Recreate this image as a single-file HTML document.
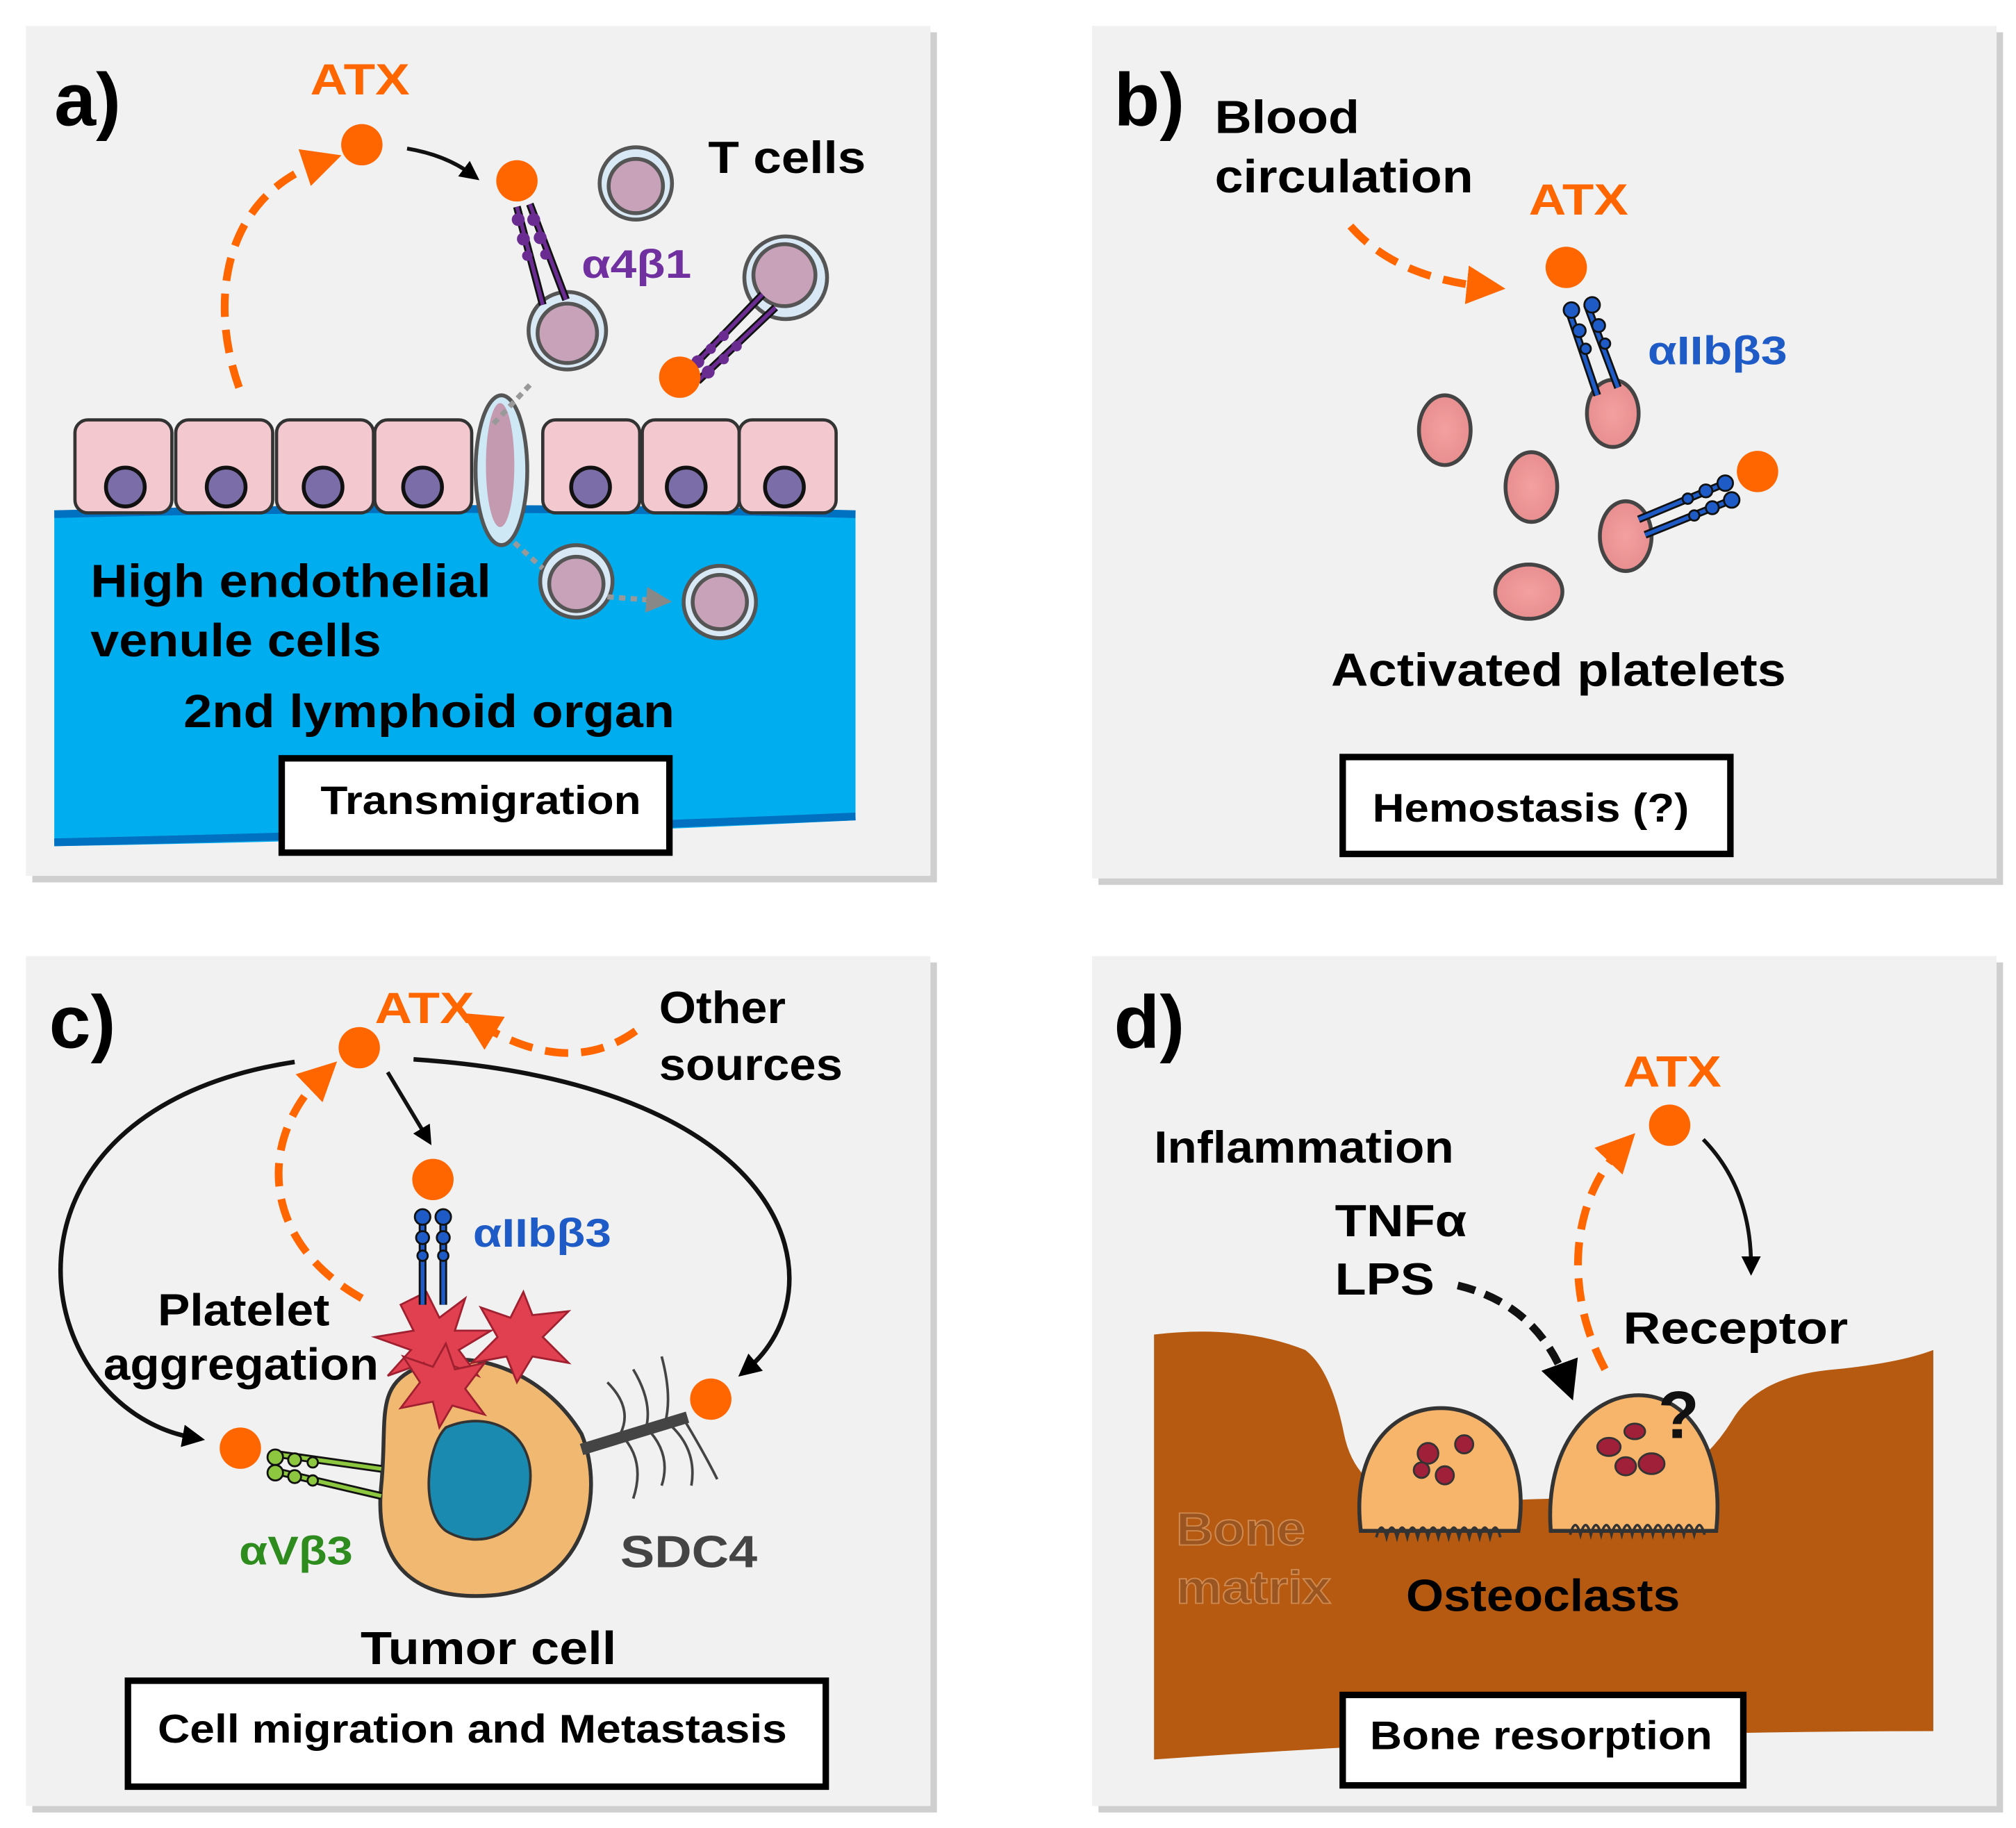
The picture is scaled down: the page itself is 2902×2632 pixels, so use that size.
<!DOCTYPE html>
<html><head><meta charset="utf-8"><style>
html,body{margin:0;padding:0;background:#fff;}
svg{display:block;}
text{font-family:"Liberation Sans",sans-serif;font-weight:bold;}
</style></head><body>
<svg width="2902" height="2632" viewBox="0 0 1560 1415" preserveAspectRatio="none" xmlns="http://www.w3.org/2000/svg">
<defs>
<marker id="ab" viewBox="0 0 10 10" refX="5" refY="5" markerWidth="5" markerHeight="5" orient="auto"><path d="M0,0 L10,5 L0,10 z" fill="#000"/></marker>
<marker id="ao" viewBox="0 0 10 10" refX="5" refY="5" markerWidth="5" markerHeight="5" orient="auto"><path d="M0,0 L10,5 L0,10 z" fill="#f60"/></marker>
<marker id="ag" viewBox="0 0 10 10" refX="5" refY="5" markerWidth="5" markerHeight="5" orient="auto"><path d="M0,0 L10,5 L0,10 z" fill="#888"/></marker>
<radialGradient id="pl"><stop offset="0" stop-color="#f4a0a0"/><stop offset="1" stop-color="#e88f90"/></radialGradient>
</defs>
<g fill="#cfcfcf"><rect x="25" y="25" width="700" height="658"/><rect x="850" y="25" width="700" height="660"/><rect x="25" y="745" width="700" height="658"/><rect x="850" y="745" width="700" height="658"/></g>
<g fill="#f1f1f1"><rect x="20" y="20" width="700" height="658"/><rect x="845" y="20" width="700" height="660"/><rect x="20" y="740" width="700" height="658"/><rect x="845" y="740" width="700" height="658"/></g>

<!-- PANEL A -->
<path d="M42,398 Q350,390 662,398 L662,635 Q350,650 42,655 Z" fill="#00aeef"/>
<path d="M42,398 Q350,390 662,398" stroke="#0070c0" stroke-width="6" fill="none"/>
<path d="M42,652 Q350,645 662,632" stroke="#0070c0" stroke-width="6" fill="none"/>
<g stroke="#333" stroke-width="2.5" fill="#f3c8cf">
<rect x="58" y="325" width="75" height="72" rx="10"/><rect x="136" y="325" width="75" height="72" rx="10"/><rect x="214" y="325" width="75" height="72" rx="10"/><rect x="290" y="325" width="75" height="72" rx="10"/>
<rect x="420" y="325" width="75" height="72" rx="10"/><rect x="497" y="325" width="75" height="72" rx="10"/><rect x="572" y="325" width="75" height="72" rx="10"/>
</g>
<g fill="#7b6ea8" stroke="#111" stroke-width="3">
<circle cx="97" cy="377" r="15"/><circle cx="175" cy="377" r="15"/><circle cx="250" cy="377" r="15"/><circle cx="327" cy="377" r="15"/><circle cx="457" cy="377" r="15"/><circle cx="531" cy="377" r="15"/><circle cx="607" cy="377" r="15"/>
</g>
<ellipse cx="388" cy="364" rx="20" ry="58" fill="#cfe8f5" stroke="#555" stroke-width="3"/>
<ellipse cx="387" cy="360" rx="11" ry="48" fill="#c49ab0"/>
<g fill="#c8a2b8" stroke="#555" stroke-width="3">
<circle cx="492" cy="142" r="28" fill="#d8e8f4"/><circle cx="492" cy="144" r="21"/>
<circle cx="439" cy="256" r="30" fill="#d8e8f4"/><circle cx="439" cy="258" r="23"/>
<circle cx="608" cy="215" r="32" fill="#d8e8f4"/><circle cx="607" cy="213" r="24"/>
<circle cx="446" cy="450" r="28" fill="#d8e8f4"/><circle cx="446" cy="452" r="21"/>
<circle cx="557" cy="466" r="28" fill="#d8e8f4"/><circle cx="557" cy="466" r="21"/>
</g>
<path d="M410,298 L380,330" stroke="#999" stroke-width="4" stroke-dasharray="5,4"/>
<path d="M398,420 L420,440" stroke="#999" stroke-width="4" stroke-dasharray="5,4"/>
<path d="M470,462 L510,465" stroke="#999" stroke-width="4" stroke-dasharray="5,4" marker-end="url(#ag)"/>
<g stroke="#111" stroke-width="6"><line x1="400" y1="160" x2="420" y2="236"/><line x1="410" y1="158" x2="438" y2="232"/></g>
<g stroke="#6a2c91" stroke-width="3"><line x1="400" y1="160" x2="420" y2="236"/><line x1="410" y1="158" x2="438" y2="232"/></g>
<g fill="#6a2c91"><circle cx="401" cy="170" r="5"/><circle cx="405" cy="185" r="5"/><circle cx="408" cy="198" r="4"/><circle cx="413" cy="170" r="5"/><circle cx="418" cy="184" r="5"/><circle cx="422" cy="197" r="4"/></g>
<g stroke="#111" stroke-width="6"><line x1="530" y1="290" x2="590" y2="228"/><line x1="540" y1="295" x2="600" y2="238"/></g>
<g stroke="#6a2c91" stroke-width="3"><line x1="530" y1="290" x2="590" y2="228"/><line x1="540" y1="295" x2="600" y2="238"/></g>
<g fill="#6a2c91"><circle cx="540" cy="280" r="5"/><circle cx="550" cy="270" r="4"/><circle cx="560" cy="260" r="4"/><circle cx="548" cy="288" r="5"/><circle cx="560" cy="278" r="4"/><circle cx="570" cy="268" r="4"/></g>
<g fill="#f60"><circle cx="280" cy="112" r="16"/><circle cx="400" cy="140" r="16"/><circle cx="526" cy="292" r="16"/></g>
<path d="M185,300 C160,230 175,150 250,125" stroke="#f60" stroke-width="6" fill="none" stroke-dasharray="18,10" marker-end="url(#ao)"/>
<path d="M315,115 Q345,120 365,135" stroke="#111" stroke-width="3" fill="none" marker-end="url(#ab)"/>
<text x="42" y="97" font-size="58">a)</text>
<text x="240" y="73" font-size="34" fill="#f60" textLength="77" lengthAdjust="spacingAndGlyphs">ATX</text>
<text x="548" y="134" font-size="35" textLength="122" lengthAdjust="spacingAndGlyphs">T cells</text>
<text x="450" y="215" font-size="31" fill="#7030a0" textLength="85" lengthAdjust="spacingAndGlyphs">α4β1</text>
<text x="70" y="462" font-size="36" textLength="310" lengthAdjust="spacingAndGlyphs">High endothelial</text>
<text x="70" y="508" font-size="36" textLength="225" lengthAdjust="spacingAndGlyphs">venule cells</text>
<text x="142" y="563" font-size="36" textLength="380" lengthAdjust="spacingAndGlyphs">2nd lymphoid organ</text>
<rect x="218" y="587" width="300" height="73" fill="#fff" stroke="#000" stroke-width="5"/>
<text x="248" y="630" font-size="31" textLength="248" lengthAdjust="spacingAndGlyphs">Transmigration</text>

<!-- PANEL B -->
<text x="862" y="97" font-size="58">b)</text>
<text x="940" y="103" font-size="36" textLength="112" lengthAdjust="spacingAndGlyphs">Blood</text>
<text x="940" y="149" font-size="36" textLength="200" lengthAdjust="spacingAndGlyphs">circulation</text>
<text x="1183" y="166" font-size="34" fill="#f60" textLength="77" lengthAdjust="spacingAndGlyphs">ATX</text>
<path d="M1045,175 Q1080,215 1150,222" stroke="#f60" stroke-width="6" fill="none" stroke-dasharray="18,10" marker-end="url(#ao)"/>
<circle cx="1212" cy="207" r="16" fill="#f60"/>
<g fill="url(#pl)" stroke="#444" stroke-width="3">
<ellipse cx="1118" cy="333" rx="20" ry="27"/><ellipse cx="1185" cy="377" rx="20" ry="27"/><ellipse cx="1183" cy="458" rx="26" ry="21"/>
<ellipse cx="1248" cy="320" rx="20" ry="26"/><ellipse cx="1258" cy="415" rx="20" ry="27"/>
</g>
<g stroke="#111" stroke-width="6"><line x1="1213" y1="238" x2="1236" y2="306"/><line x1="1228" y1="236" x2="1252" y2="300"/><line x1="1268" y1="402" x2="1340" y2="372"/><line x1="1273" y1="414" x2="1345" y2="385"/></g>
<g stroke="#1e5bc6" stroke-width="3"><line x1="1213" y1="238" x2="1236" y2="306"/><line x1="1228" y1="236" x2="1252" y2="300"/><line x1="1268" y1="402" x2="1340" y2="372"/><line x1="1273" y1="414" x2="1345" y2="385"/></g>
<g fill="#1e5bc6" stroke="#111" stroke-width="1.5"><circle cx="1216" cy="240" r="6"/><circle cx="1222" cy="256" r="5"/><circle cx="1227" cy="270" r="4"/><circle cx="1232" cy="236" r="6"/><circle cx="1237" cy="252" r="5"/><circle cx="1242" cy="266" r="4"/>
<circle cx="1335" cy="374" r="6"/><circle cx="1320" cy="380" r="5"/><circle cx="1306" cy="386" r="4"/><circle cx="1340" cy="387" r="6"/><circle cx="1325" cy="393" r="5"/><circle cx="1311" cy="399" r="4"/></g>
<circle cx="1360" cy="365" r="16" fill="#f60"/>
<text x="1275" y="282" font-size="31" fill="#1e5bc6" textLength="108" lengthAdjust="spacingAndGlyphs">αIIbβ3</text>
<text x="1030" y="531" font-size="36" textLength="352" lengthAdjust="spacingAndGlyphs">Activated platelets</text>
<rect x="1039" y="586" width="300" height="75" fill="#fff" stroke="#000" stroke-width="5"/>
<text x="1062" y="636" font-size="31" textLength="245" lengthAdjust="spacingAndGlyphs">Hemostasis (?)</text>

<!-- PANEL C -->
<text x="38" y="811" font-size="58">c)</text>
<text x="290" y="792" font-size="34" fill="#f60" textLength="77" lengthAdjust="spacingAndGlyphs">ATX</text>
<text x="510" y="792" font-size="35" textLength="98" lengthAdjust="spacingAndGlyphs">Other</text>
<text x="510" y="836" font-size="35" textLength="142" lengthAdjust="spacingAndGlyphs">sources</text>
<path d="M492,798 Q440,835 370,792" stroke="#f60" stroke-width="6" fill="none" stroke-dasharray="18,10" marker-end="url(#ao)"/>
<circle cx="278" cy="811" r="16" fill="#f60"/>
<circle cx="335" cy="913" r="16" fill="#f60"/>
<circle cx="186" cy="1121" r="16" fill="#f60"/>
<circle cx="550" cy="1083" r="16" fill="#f60"/>
<path d="M228,822 C-20,860 20,1090 150,1113" stroke="#111" stroke-width="3.5" fill="none" marker-end="url(#ab)"/>
<path d="M320,820 C620,840 650,1000 578,1060" stroke="#111" stroke-width="3.5" fill="none" marker-end="url(#ab)"/>
<path d="M300,830 L330,880" stroke="#111" stroke-width="3" marker-end="url(#ab)"/>
<path d="M280,1005 C200,960 200,880 250,832" stroke="#f60" stroke-width="6" fill="none" stroke-dasharray="18,10" marker-end="url(#ao)"/>
<path d="M320,1060 C360,1040 420,1060 450,1110 C470,1160 450,1230 380,1235 C310,1240 290,1200 295,1150 C300,1100 290,1075 320,1060Z" fill="#f0b870" stroke="#333" stroke-width="3"/>
<path d="M345,1105 C380,1090 415,1110 410,1150 C405,1190 370,1200 345,1185 C325,1170 330,1120 345,1105Z" fill="#1a8ab0" stroke="#333" stroke-width="2"/>
<g fill="#e04050" stroke="#a02030" stroke-width="1.5">
<polygon points="330,1000 340,1020 360,1005 352,1030 380,1030 355,1045 370,1065 345,1055 338,1080 328,1055 300,1065 318,1045 290,1035 320,1030 310,1010"/>
<polygon points="405,1000 412,1018 440,1015 420,1035 440,1055 412,1050 400,1070 392,1050 365,1055 385,1035 372,1012 395,1020"/>
<polygon points="345,1040 352,1060 375,1055 360,1075 375,1095 350,1088 340,1105 335,1085 310,1090 325,1070 312,1050 335,1058"/>
</g>
<g stroke="#111" stroke-width="6"><line x1="327" y1="945" x2="327" y2="1010"/><line x1="343" y1="945" x2="343" y2="1010"/></g>
<g stroke="#1e5bc6" stroke-width="3"><line x1="327" y1="945" x2="327" y2="1010"/><line x1="343" y1="945" x2="343" y2="1010"/></g>
<g fill="#1e5bc6" stroke="#111" stroke-width="1.5"><circle cx="327" cy="942" r="6"/><circle cx="343" cy="942" r="6"/><circle cx="327" cy="958" r="5"/><circle cx="343" cy="958" r="5"/><circle cx="327" cy="972" r="4"/><circle cx="343" cy="972" r="4"/></g>
<g stroke="#111" stroke-width="6"><line x1="210" y1="1125" x2="295" y2="1137"/><line x1="210" y1="1138" x2="295" y2="1158"/></g>
<g stroke="#8dc63f" stroke-width="3"><line x1="210" y1="1125" x2="295" y2="1137"/><line x1="210" y1="1138" x2="295" y2="1158"/></g>
<g fill="#8dc63f" stroke="#111" stroke-width="1.5"><circle cx="213" cy="1128" r="6"/><circle cx="228" cy="1130" r="5"/><circle cx="242" cy="1132" r="4"/><circle cx="213" cy="1140" r="6"/><circle cx="228" cy="1143" r="5"/><circle cx="242" cy="1146" r="4"/></g>
<line x1="450" y1="1122" x2="532" y2="1097" stroke="#444" stroke-width="9"/>
<g stroke="#444" stroke-width="2" fill="none"><path d="M470,1070 Q490,1090 480,1110 Q500,1130 490,1160"/><path d="M490,1060 Q505,1085 500,1105 Q520,1125 512,1150"/><path d="M512,1050 Q520,1080 515,1100 Q540,1120 535,1150"/><path d="M530,1100 Q545,1125 555,1145"/></g>
<text x="366" y="965" font-size="31" fill="#1e5bc6" textLength="107" lengthAdjust="spacingAndGlyphs">αIIbβ3</text>
<text x="122" y="1026" font-size="35" textLength="133" lengthAdjust="spacingAndGlyphs">Platelet</text>
<text x="80" y="1068" font-size="35" textLength="213" lengthAdjust="spacingAndGlyphs">aggregation</text>
<text x="185" y="1211" font-size="31" fill="#2e8b1e" textLength="88" lengthAdjust="spacingAndGlyphs">αVβ3</text>
<text x="480" y="1213" font-size="35" fill="#444" textLength="106" lengthAdjust="spacingAndGlyphs">SDC4</text>
<text x="279" y="1288" font-size="36" textLength="198" lengthAdjust="spacingAndGlyphs">Tumor cell</text>
<rect x="99" y="1301" width="540" height="82" fill="#fff" stroke="#000" stroke-width="5"/>
<text x="122" y="1349" font-size="31" textLength="487" lengthAdjust="spacingAndGlyphs">Cell migration and Metastasis</text>

<!-- PANEL D -->
<text x="862" y="811" font-size="58">d)</text>
<path d="M893,1033 Q960,1025 1010,1045 Q1030,1060 1040,1110 Q1050,1160 1110,1165 Q1180,1160 1210,1160 Q1300,1165 1340,1100 Q1360,1065 1420,1060 Q1470,1055 1496,1045 L1496,1340 Q1200,1340 893,1362 Z" fill="#b55a10"/>
<g stroke="#333" stroke-width="3" fill="#f6b56b">
<path d="M1053,1185 C1045,1120 1080,1090 1115,1090 C1150,1090 1185,1120 1175,1185 Z"/>
<path d="M1200,1185 C1195,1120 1230,1080 1268,1080 C1305,1080 1335,1120 1328,1185 Z"/>
</g>
<g stroke="#333" stroke-width="2" fill="none"><path d="M1065,1190 q4,-15 8,0 q4,-15 8,0 q4,-15 8,0 q4,-15 8,0 q4,-15 8,0 q4,-15 8,0 q4,-15 8,0 q4,-15 8,0 q4,-15 8,0 q4,-15 8,0 q4,-15 8,0 q4,-15 8,0"/><path d="M1215,1188 q4,-15 8,0 q4,-15 8,0 q4,-15 8,0 q4,-15 8,0 q4,-15 8,0 q4,-15 8,0 q4,-15 8,0 q4,-15 8,0 q4,-15 8,0 q4,-15 8,0 q4,-15 8,0 q4,-15 8,0 q4,-15 8,0"/></g>
<g fill="#a0203a" stroke="#333" stroke-width="1.5"><circle cx="1105" cy="1125" r="8"/><circle cx="1133" cy="1118" r="7"/><circle cx="1118" cy="1142" r="7"/><circle cx="1100" cy="1138" r="6"/><ellipse cx="1245" cy="1120" rx="9" ry="7"/><ellipse cx="1265" cy="1108" rx="8" ry="6"/><ellipse cx="1278" cy="1133" rx="10" ry="8"/><ellipse cx="1258" cy="1135" rx="8" ry="7"/></g>
<text x="1283" y="1113" font-size="52" fill="#111">?</text>
<text x="1256" y="841" font-size="34" fill="#f60" textLength="76" lengthAdjust="spacingAndGlyphs">ATX</text>
<circle cx="1292" cy="871" r="16" fill="#f60"/>
<path d="M1242,1060 C1210,1000 1215,930 1255,888" stroke="#f60" stroke-width="6" fill="none" stroke-dasharray="18,10" marker-end="url(#ao)"/>
<path d="M1318,882 Q1355,920 1355,980" stroke="#111" stroke-width="3" fill="none" marker-end="url(#ab)"/>
<path d="M1128,995 Q1190,1010 1212,1070" stroke="#111" stroke-width="6" fill="none" stroke-dasharray="14,8" marker-end="url(#ab)"/>
<text x="893" y="900" font-size="35" textLength="232" lengthAdjust="spacingAndGlyphs">Inflammation</text>
<text x="1033" y="957" font-size="35" textLength="102" lengthAdjust="spacingAndGlyphs">TNFα</text>
<text x="1033" y="1002" font-size="35" textLength="77" lengthAdjust="spacingAndGlyphs">LPS</text>
<text x="1256" y="1040" font-size="35" textLength="174" lengthAdjust="spacingAndGlyphs">Receptor</text>
<text x="910" y="1196" font-size="36" fill="#9a5520" stroke="#d08a50" stroke-width="1" textLength="100" lengthAdjust="spacingAndGlyphs">Bone</text>
<text x="910" y="1241" font-size="36" fill="#9a5520" stroke="#d08a50" stroke-width="1" textLength="120" lengthAdjust="spacingAndGlyphs">matrix</text>
<text x="1088" y="1247" font-size="35" textLength="212" lengthAdjust="spacingAndGlyphs">Osteoclasts</text>
<rect x="1039" y="1312" width="310" height="70" fill="#fff" stroke="#000" stroke-width="5"/>
<text x="1060" y="1354" font-size="31" textLength="265" lengthAdjust="spacingAndGlyphs">Bone resorption</text>
</svg>
</body></html>
